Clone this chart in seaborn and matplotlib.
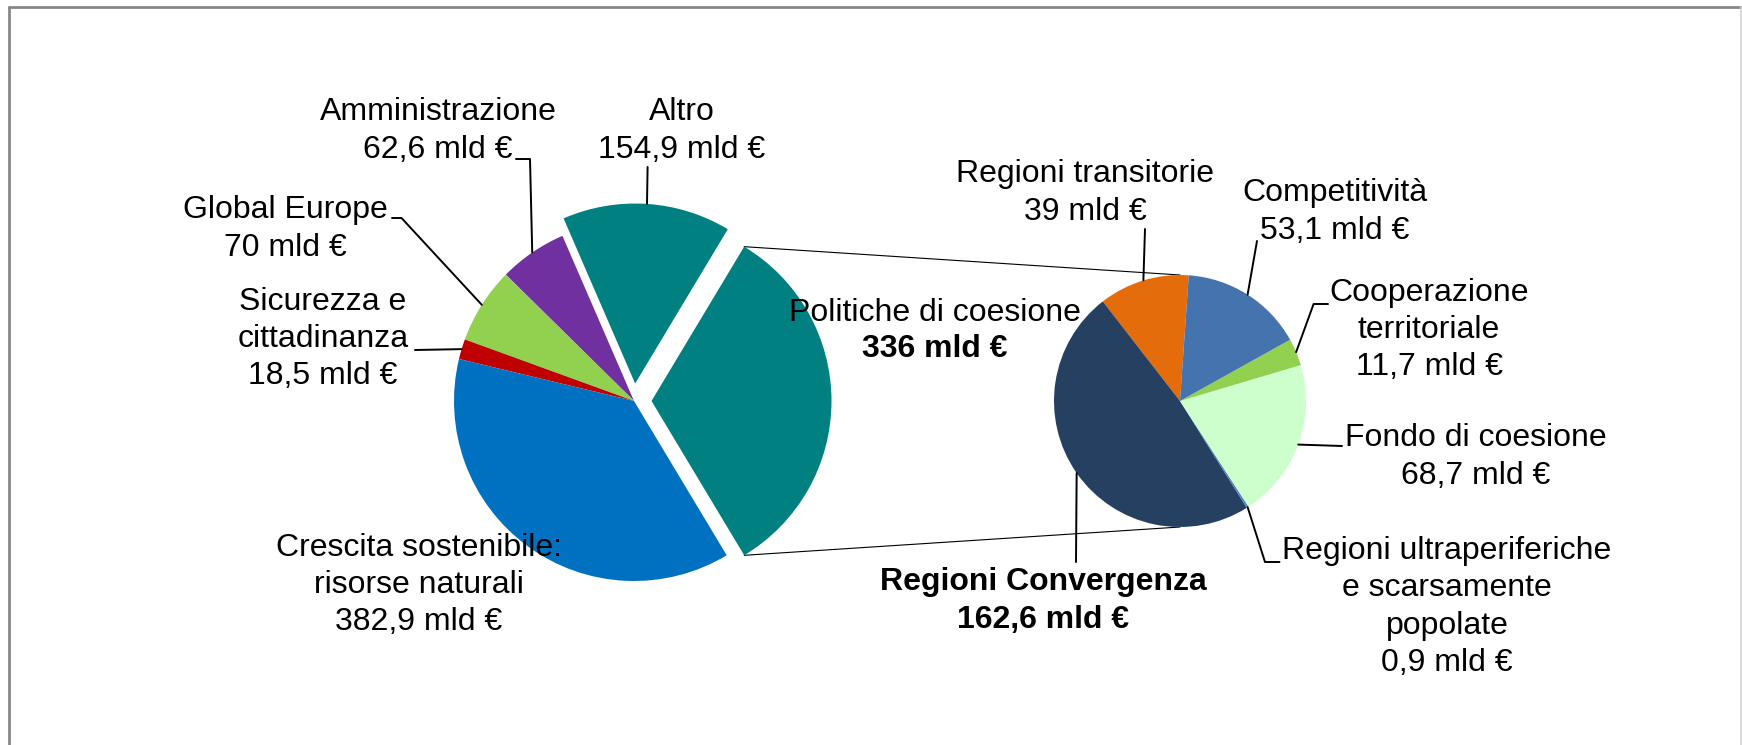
import numpy as np
import matplotlib
matplotlib.use("Agg")
import matplotlib.pyplot as plt
import seaborn as sns

# dati (mld €) - torta principale, in senso antiorario dalla fetta staccata
main_labels = ["Politiche di coesione", "Altro", "Amministrazione", "Global Europe",
               "Sicurezza e\ncittadinanza", "Crescita sostenibile:\nrisorse naturali"]
main_values = [336, 154.9, 62.6, 70, 18.5, 382.9]
main_colors = ["#008080", "#008080", "#7030A0", "#92D050", "#C00000", "#0070C0"]

# dettaglio politiche di coesione
sub_labels = ["Regioni transitorie", "Regioni Convergenza",
              "Regioni ultraperiferiche\ne scarsamente\npopolate",
              "Fondo di coesione", "Cooperazione\nterritoriale", "Competitività"]
sub_values = [39, 162.6, 0.9, 68.7, 11.7, 53.1]
sub_colors = ["#E46C0A", "#254061", "#4F81BD", "#CCFFCC", "#92D050", "#4473AE"]


def fmt(v):
    return f"{v:g}".replace(".", ",") + " mld €"


sns.set_theme(style="white")
plt.rcParams["font.family"] = ["Liberation Sans", "DejaVu Sans"]
plt.rcParams["text.color"] = "black"

W, H = 1742, 745
fig = plt.figure(figsize=(W / 100, H / 100), dpi=100)
ax = fig.add_axes([0, 0, 1, 1])


def P(x, y):  # coordinate immagine (y in basso) -> assi
    return x, H - y


c1, r1 = P(634, 401), 180
c2, r2 = P(1180, 401), 126

w1, _ = ax.pie(main_values, colors=main_colors, startangle=-59, counterclock=True,
               explode=[17.5, 17.5, 0, 0, 0, 0], radius=r1, center=c1, frame=True,
               wedgeprops=dict(linewidth=0))
w2, _ = ax.pie(sub_values, colors=sub_colors, startangle=86, radius=r2, center=c2,
               frame=True, wedgeprops=dict(linewidth=0))


def edge(w, ang=None):
    if ang is None:
        ang = (w.theta1 + w.theta2) / 2
    a = np.deg2rad(ang)
    cx, cy = w.center
    return cx + w.r * np.cos(a), cy + w.r * np.sin(a)


# linee di collegamento tra le due torte
pol = w1[0]
for a_from, a_to in [(pol.theta2, 90), (pol.theta1, 270)]:
    x0, y0 = edge(pol, a_from)
    x1, y1 = c2[0] + r2 * np.cos(np.deg2rad(a_to)), c2[1] + r2 * np.sin(np.deg2rad(a_to))
    ax.plot([x0, x1], [y0, y1], color="black", lw=0.8, zorder=0.5)

FS = 23
LS = 1.32
# posizione etichette (centro del blocco) e punti della linea guida
main_pos = {1: (682, 131), 2: (438, 131), 3: (285, 229), 4: (323, 339), 5: (419, 585)}
main_lead = {1: [(647.6, 167)], 2: [(516, 159), (530, 159)], 3: [(392, 218), (401.5, 218)],
             4: [(415, 350)]}
sub_pos = {0: (1085, 193), 1: (1043, 601), 2: (1447, 607), 3: (1476, 457),
           4: (1429, 330), 5: (1335, 212)}
sub_lead = {0: [(1145, 229)], 1: [(1076, 562)], 2: [(1279.5, 562), (1265, 562)],
            3: [(1342, 446)], 4: [(1328, 304), (1313.6, 304)], 5: [(1257, 241)]}

for i, (lab, v) in enumerate(zip(main_labels, main_values)):
    if i == 0:
        ax.text(*P(935, 313), lab, ha="center", va="center", fontsize=FS)
        ax.text(*P(935, 349), fmt(v), ha="center", va="center", fontsize=FS,
                fontweight="bold")
        continue
    ax.text(*P(*main_pos[i]), f"{lab}\n{fmt(v)}", ha="center", va="center",
            fontsize=FS, linespacing=LS)
    if i in main_lead:
        pts = [P(*p) for p in main_lead[i]] + [edge(w1[i])]
        xs, ys = zip(*pts)
        ax.plot(xs, ys, color="black", lw=1.4, zorder=4)

for i, (lab, v) in enumerate(zip(sub_labels, sub_values)):
    ax.text(*P(*sub_pos[i]), f"{lab}\n{fmt(v)}", ha="center", va="center",
            fontsize=FS, linespacing=LS,
            fontweight="bold" if i == 1 else "normal")
    pts = [P(*p) for p in sub_lead[i]] + [edge(w2[i])]
    xs, ys = zip(*pts)
    ax.plot(xs, ys, color="black", lw=1.4, zorder=4)

# cornice del grafico
ax.plot([9, 9], [0, H - 7], color="#878787", lw=2)
ax.plot([9, W - 1], [H - 7, H - 7], color="#878787", lw=2)
ax.plot([W - 1, W - 1], [0, H - 7], color="#d4d4d4", lw=1.2)

ax.set_xlim(0, W)
ax.set_ylim(0, H)
ax.set_aspect("auto")
ax.axis("off")

fig.savefig("out.png", dpi=100, facecolor="white")
